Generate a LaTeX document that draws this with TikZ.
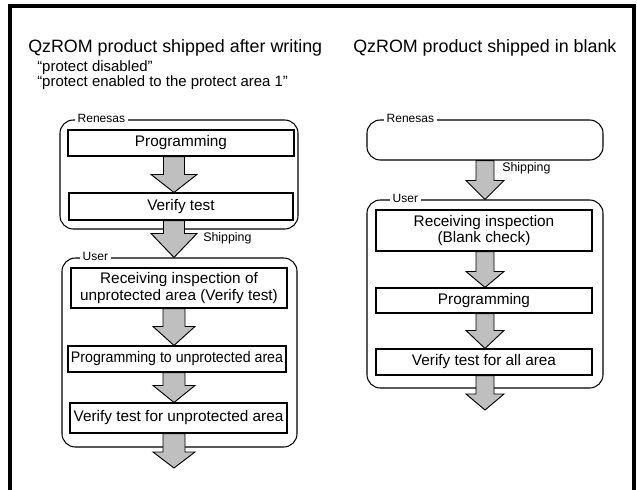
\documentclass[tikz,border=0pt]{standalone}
\usepackage{fontspec}
\setmainfont{Liberation Sans}
\usepackage{graphicx}
\usetikzlibrary{calc,fit}
\tikzset{
  frameline/.style={line width=2.3pt},
  procbox/.style={draw, line width=0.8pt, fill=white, inner sep=0pt, align=center, font=\fontsize{11.5}{12.5}\selectfont},
  group/.style={draw, line width=0.8pt, rounded corners=10pt, inner sep=0pt},
  grouplabel/.style={fill=white, inner xsep=2.2pt, inner ysep=1pt, font=\fontsize{9}{10}\selectfont, anchor=west},
  shiplabel/.style={font=\fontsize{9.3}{10}\selectfont, anchor=west, inner sep=0pt},
  blockarrow/.style={draw, line width=0.7pt, fill=black!25, line join=miter},
  titletext/.style={font=\fontsize{13.4}{15}\selectfont, inner sep=0pt, anchor=base west},
  subtitle/.style={font=\fontsize{11.2}{12}\selectfont, inner sep=0pt, anchor=base west},
}
% process box: name, x1, y1, x2, y2, text (pixel units)
\newcommand{\pbox}[6]{%
  \node[procbox, minimum width={(#4-#2)*0.75pt}, minimum height={(#5-#3)*0.75pt}]
    (#1) at ({(#2+#4)/2},{(#3+#5)/2}) {#6};}
% #1 axis coordinate, #2 top anchor, #3 tip anchor, #4 head length, #5 shaft half width, #6 head half width
\newcommand{\blockarr}[6]{%
  \path (#1 |- #2) coordinate (ba-top) (#1 |- #3) coordinate (ba-tip);
  \filldraw[blockarrow] ($(ba-top)+(-#5,0)$) -- ($(ba-tip)+(-#5,-#4)$) -- ($(ba-tip)+(-#6,-#4)$)
    -- (ba-tip) -- ($(ba-tip)+(#6,-#4)$) -- ($(ba-tip)+(#5,-#4)$) -- ($(ba-top)+(#5,0)$) -- cycle;}
\begin{document}
\begin{tikzpicture}[x=0.75pt,y=-0.75pt]
\useasboundingbox (0,0) rectangle (637,490);
\draw[frameline] (10,490) -- (10,6) -- (634,6) -- (634,490);

% titles
\node[titletext] (titleL) at (28,52) {QzROM product shipped after writing};
\node[subtitle] (subL1) at (37,71) {“protect disabled”};
\node[subtitle] (subL2) at (37,86) {“protect enabled to the protect area 1”};
\node[titletext] (titleR) at (353,52) {QzROM product shipped in blank};

% axes
\coordinate (axL) at (174,0);
\coordinate (axR) at (485,0);

% left column
\node[group, fit={(60,120)(298,229)}] (renL) {};
\node[grouplabel] (renLlab) at ($(renL.north west)+(15,-1)$) {Renesas};
\node[group, fit={(62,258)(297,447)}] (userL) {};
\node[grouplabel] (userLlab) at ($(userL.north west)+(18,-1)$) {User};

\pbox{progL}{68}{130}{294}{156}{Programming}
\pbox{verL}{69}{193}{293}{220}{Verify test}
\pbox{recL}{71}{268}{287}{308}{Receiving inspection of\\unprotected area (Verify test)}
\pbox{prog2L}{68}{346}{286}{372}{\scalebox{0.925}[1]{Programming to unprotected area}}
\pbox{ver2L}{70}{403}{287}{433}{Verify test for unprotected area}
\coordinate (endL) at (174,468);

\blockarr{axL}{progL.south}{verL.north}{18}{10.5}{23}
\blockarr{axL}{verL.south}{userL.north}{24}{10.5}{23}
\blockarr{axL}{recL.south}{prog2L.north}{19}{11}{21}
\blockarr{axL}{prog2L.south}{ver2L.north}{17}{11}{21}
\blockarr{axL}{ver2L.south}{endL}{16}{11}{21}
\node[shiplabel] (shipL) at (203,238) {Shipping};

% right column
\node[group, fit={(367,120)(603,160)}] (renR) {};
\node[grouplabel] (renRlab) at ($(renR.north west)+(17,-1)$) {Renesas};
\node[group, fit={(367,200)(603,388)}] (userR) {};
\node[grouplabel] (userRlab) at ($(userR.north west)+(23,-1)$) {User};

\pbox{recR}{376}{210}{592}{251}{Receiving inspection\\(Blank check)}
\pbox{progR}{376}{288}{592}{313}{Programming}
\pbox{verR}{376}{349}{592}{375}{Verify test for all area}
\coordinate (endR) at (485,410);

\blockarr{axR}{renR.south}{userR.north}{19}{9}{19}
\blockarr{axR}{recR.south}{progR.north}{16}{9}{19}
\blockarr{axR}{progR.south}{verR.north}{18}{9}{19}
\blockarr{axR}{verR.south}{endR}{16}{9}{19}
\node[shiplabel] (shipR) at (502,168) {Shipping};
\end{tikzpicture}
\end{document}
